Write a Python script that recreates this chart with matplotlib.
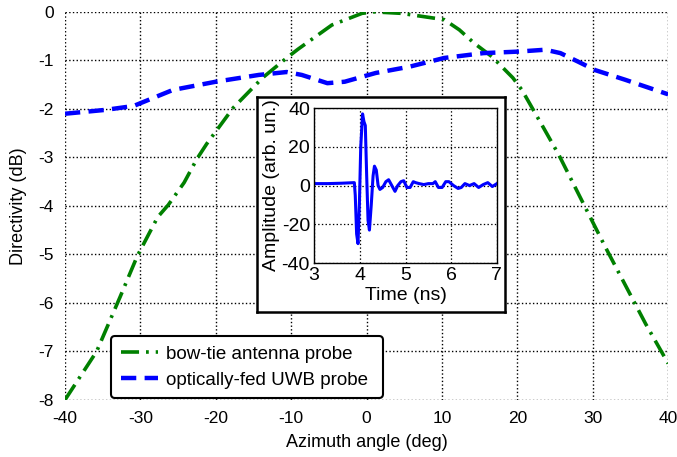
import matplotlib
matplotlib.use("Agg")
import matplotlib.pyplot as plt

plt.rcParams['font.family'] = ['Liberation Sans', 'DejaVu Sans']
plt.rcParams['lines.scale_dashes'] = False
plt.rcParams['axes.unicode_minus'] = False

# main plot data (azimuth in deg, directivity in dB)
bowtie_angle = [-40, -35.8, -32.7, -30.4, -27.7, -26.3, -24.2, -22.5, -21.2, -17.7, -13.8,
                -10.6, -9.1, -4.6, -0.6, 1.0, 4.6, 10.3, 12.3, 14.3, 16.6, 19.4, 20.6,
                23.5, 25.5, 28.9, 31.6, 34.3, 37.0, 40]
bowtie_dir = [-8.0, -7.0, -5.88, -5.03, -4.23, -3.98, -3.52, -3.03, -2.72, -1.98, -1.36,
              -0.95, -0.77, -0.27, -0.03, 0.0, -0.03, -0.16, -0.37, -0.65, -0.92, -1.36, -1.61,
              -2.4, -2.95, -4.0, -4.83, -5.63, -6.43, -7.25]

uwb_angle = [-40, -34.6, -30.9, -25.7, -20, -14.3, -10.6, -8.6, -5.2, -2.9, 1.2, 5.7,
             10.3, 15.5, 20, 23.7, 25.7, 28.1, 30.3, 34.3, 40]
uwb_dir = [-2.1, -2.02, -1.94, -1.61, -1.44, -1.30, -1.24, -1.30, -1.47, -1.44, -1.26, -1.13,
           -0.95, -0.85, -0.82, -0.78, -0.85, -1.03, -1.2, -1.4, -1.7]

# inset: time-domain pulse
pulse_t = [3.0, 3.3, 3.6, 3.88, 3.9, 3.93, 3.96, 3.99, 4.02, 4.06, 4.09, 4.12, 4.15, 4.18,
           4.21, 4.25, 4.29, 4.32, 4.36, 4.4, 4.44, 4.5, 4.57, 4.63, 4.7, 4.77, 4.83, 4.9,
           4.96, 5.03, 5.1, 5.17, 5.22, 5.3, 5.4, 5.5, 5.6, 5.65, 5.72, 5.8, 5.88, 5.95,
           6.05, 6.15, 6.22, 6.3, 6.4, 6.5, 6.6, 6.7, 6.8, 6.9, 7.0]
pulse_a = [1, 1, 1.2, 1.5, -5, -25, -30, -10, 20, 37, 33, 31, 5, -18,
           -23, -10, 5, 10, 8, 0, -2, -1, 2, 3, 0, -3, 0, 2,
           2.5, -1, -1, 2, 1.5, 1, 0.5, 1, 1, 2, -1, -1, 2, 2,
           0, -1.5, -1, 1, 0, 1, -1, 0.5, 1.5, -0.5, 1]

fig = plt.figure(figsize=(6.77, 4.57), dpi=100)
ax = fig.add_axes([0.096, 0.125, 0.891, 0.849])

ax.plot(bowtie_angle, bowtie_dir, color='#008000', lw=2.6, dashes=(13, 5, 2, 5),
        label='bow-tie antenna probe')
ax.plot(uwb_angle, uwb_dir, color='#0000ff', lw=3.2, dashes=(11, 6),
        label='optically-fed UWB probe')

ax.set_xlim(-40, 40)
ax.set_ylim(-8, 0)
ax.set_xticks(range(-40, 41, 10))
ax.set_yticks(range(-8, 1))
ax.grid(True, color='black', linestyle=':', linewidth=1.0)
for s in ax.spines.values():
    s.set_visible(False)
ax.tick_params(length=0, labelsize=12.5, pad=8)
ax.set_xlabel('Azimuth angle (deg)', fontsize=13, labelpad=6)
ax.set_ylabel('Directivity (dB)', fontsize=13, labelpad=8)

leg = ax.legend(loc='lower left', bbox_to_anchor=(0.077, 0.005, 0.45, 0.17), mode='expand',
                borderaxespad=0, fontsize=13.5, handlelength=2.0, handletextpad=0.4,
                fancybox=True, framealpha=1, edgecolor='black', borderpad=0.5,
                labelspacing=0.45)
leg.get_frame().set_linewidth(1.5)

# inset frame and inset axes
frame = fig.add_axes([0.380, 0.317, 0.366, 0.470])
frame.set_xticks([])
frame.set_yticks([])
for s in frame.spines.values():
    s.set_linewidth(1.8)
    s.set_color('black')

inset = fig.add_axes([0.464, 0.4245, 0.270, 0.339])
inset.plot(pulse_t, pulse_a, color='#0000ff', lw=2.2)
inset.set_xlim(3, 7)
inset.set_ylim(-40, 40)
inset.set_xticks([3, 4, 5, 6, 7])
inset.set_yticks([-40, -20, 0, 20, 40])
inset.grid(True, color='black', linestyle=':', linewidth=0.9)
inset.tick_params(length=0, labelsize=14, pad=3)
inset.set_xlabel('Time (ns)', fontsize=14, labelpad=2)
inset.set_ylabel('Amplitude (arb. un.)', fontsize=14, labelpad=1)
for s in inset.spines.values():
    s.set_linewidth(1.0)

fig.savefig('out.png', dpi=100)
